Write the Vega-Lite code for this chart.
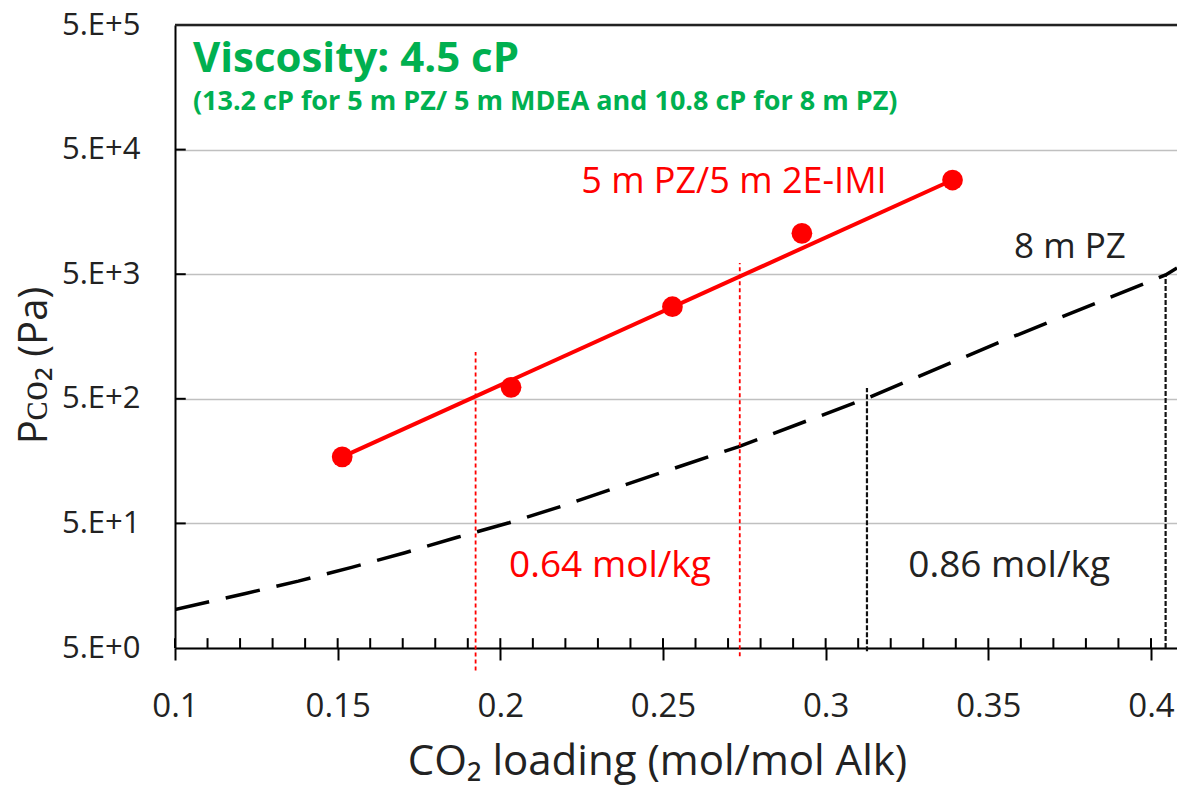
{
  "$schema": "https://vega.github.io/schema/vega-lite/v6.json",
  "width": 1002,
  "height": 623,
  "autosize": {"type": "none"},
  "padding": {"left": 175, "top": 25, "right": 0, "bottom": 138},
  "background": "white",
  "config": {"view": {"stroke": null}, "font": "Open Sans"},
  "datasets": {
    "imi": [
      {"loading": 0.1514, "pco2": 171},
      {"loading": 0.2033, "pco2": 618},
      {"loading": 0.2529, "pco2": 2741},
      {"loading": 0.2927, "pco2": 10640},
      {"loading": 0.339, "pco2": 28500}
    ],
    "imiFit": [
      {"loading": 0.1514, "pco2": 171},
      {"loading": 0.339, "pco2": 28500}
    ],
    "pz": [
      {"loading": 0.1, "pco2": 10.2},
      {"loading": 0.1217, "pco2": 13.7},
      {"loading": 0.1379, "pco2": 17.2},
      {"loading": 0.1543, "pco2": 22.2},
      {"loading": 0.1707, "pco2": 29.1},
      {"loading": 0.1868, "pco2": 38.7},
      {"loading": 0.2027, "pco2": 50.6},
      {"loading": 0.2191, "pco2": 69.0},
      {"loading": 0.2342, "pco2": 93.9},
      {"loading": 0.2731, "pco2": 206},
      {"loading": 0.3127, "pco2": 505},
      {"loading": 0.3551, "pco2": 1482},
      {"loading": 0.4045, "pco2": 4930},
      {"loading": 0.408, "pco2": 5600}
    ],
    "redGuides": [
      {"loading": 0.1924, "low": 3.3, "high": 1190},
      {"loading": 0.2736, "low": 4.3, "high": 6150}
    ],
    "blackGuides": [
      {"loading": 0.3127, "low": 4.7, "high": 611},
      {"loading": 0.4045, "low": 5, "high": 4840}
    ],
    "minorX": [
      {"loading": 0.1}, {"loading": 0.11}, {"loading": 0.12}, {"loading": 0.13}, {"loading": 0.14},
      {"loading": 0.15}, {"loading": 0.16}, {"loading": 0.17}, {"loading": 0.18}, {"loading": 0.19},
      {"loading": 0.2}, {"loading": 0.21}, {"loading": 0.22}, {"loading": 0.23}, {"loading": 0.24},
      {"loading": 0.25}, {"loading": 0.26}, {"loading": 0.27}, {"loading": 0.28}, {"loading": 0.29},
      {"loading": 0.3}, {"loading": 0.31}, {"loading": 0.32}, {"loading": 0.33}, {"loading": 0.34},
      {"loading": 0.35}, {"loading": 0.36}, {"loading": 0.37}, {"loading": 0.38}, {"loading": 0.39},
      {"loading": 0.4}
    ],
    "decades": [
      {"pco2": 50}, {"pco2": 500}, {"pco2": 5000}, {"pco2": 50000}
    ],
    "frame": [{"pco2": 500000}],
    "greenTitle": [{"loading": 0.1055, "pco2": 209900, "text": "Viscosity: 4.5 cP"}],
    "greenSub": [{"loading": 0.1055, "pco2": 103900, "text": "(13.2 cP for 5 m PZ/ 5 m MDEA and 10.8 cP for 8 m PZ)"}],
    "redTitle": [{"loading": 0.2718, "pco2": 22420, "text": "5 m PZ/5 m 2E-IMI"}],
    "blackTitle": [{"loading": 0.3751, "pco2": 6745, "text": "8 m PZ"}],
    "redNote": [{"loading": 0.2337, "pco2": 18.6, "text": "0.64 mol/kg"}],
    "blackNote": [{"loading": 0.3564, "pco2": 18.6, "text": "0.86 mol/kg"}]
  },
  "layer": [
    {
      "data": {"name": "pz"},
      "mark": {"type": "line", "color": "black", "strokeWidth": 3.5, "strokeDash": [35, 17], "clip": true},
      "encoding": {
        "x": {
          "field": "loading", "type": "quantitative",
          "scale": {"domain": [0.1, 0.408], "nice": false, "zero": false},
          "axis": {
            "orient": "bottom",
            "values": [0.1, 0.15, 0.2, 0.25, 0.3, 0.35, 0.4],
            "format": "~g",
            "title": "CO₂ loading (mol/mol Alk)",
            "grid": false,
            "tickSize": 12, "tickColor": "black", "tickWidth": 2,
            "domainColor": "black", "domainWidth": 2,
            "labelFont": "Open Sans", "labelFontSize": 33, "labelColor": "#222222",
            "labelBaseline": "alphabetic", "labelPadding": 56,
            "labelFlush": false, "labelOverlap": false, "labelBound": false,
            "titleFont": "Open Sans", "titleFontSize": 42, "titleFontWeight": "normal", "titleColor": "#222222",
            "titleX": 482, "titleY": 126, "titleBaseline": "alphabetic", "titleAlign": "center"
          }
        },
        "y": {
          "field": "pco2", "type": "quantitative",
          "scale": {"type": "log", "domain": [5, 500000], "nice": false},
          "axis": {
            "orient": "left",
            "values": [5, 50, 500, 5000, 50000, 500000],
            "labelExpr": "'5.E+' + round(log(datum.value / 5) / LN10)",
            "ticks": false,
            "labelPadding": 35,
            "labelFont": "Open Sans", "labelFontSize": 31, "labelColor": "#222222",
            "labelFlush": false, "labelOverlap": false, "labelBound": false,
            "domainColor": "black", "domainWidth": 2,
            "grid": true, "gridColor": "#c0c0c0", "gridWidth": 1.5,
            "title": "Pᴄᴏ₂ (Pa)",
            "titleFont": "Open Sans", "titleFontSize": 40, "titleFontWeight": "normal", "titleColor": "#222222",
            "titleX": -141, "titleY": 340, "titleBaseline": "middle", "titleAlign": "center", "titleAngle": -90
          }
        }
      }
    },
    {
      "data": {"name": "minorX"},
      "mark": {"type": "rule", "color": "black", "strokeWidth": 2},
      "encoding": {
        "x": {"field": "loading", "type": "quantitative"},
        "y": {"datum": 5, "type": "quantitative"},
        "y2": {"datum": 6.0}
      }
    },
    {
      "data": {"name": "decades"},
      "mark": {"type": "rule", "color": "black", "strokeWidth": 2},
      "encoding": {
        "y": {"field": "pco2", "type": "quantitative"},
        "x": {"datum": 0.1, "type": "quantitative"},
        "x2": {"datum": 0.1033}
      }
    },
    {
      "data": {"name": "imiFit"},
      "mark": {"type": "line", "color": "#ff0000", "strokeWidth": 4},
      "encoding": {
        "x": {"field": "loading", "type": "quantitative"},
        "y": {"field": "pco2", "type": "quantitative"}
      }
    },
    {
      "data": {"name": "imi"},
      "mark": {"type": "circle", "color": "#ff0000", "opacity": 1, "size": 430},
      "encoding": {
        "x": {"field": "loading", "type": "quantitative"},
        "y": {"field": "pco2", "type": "quantitative"}
      }
    },
    {
      "data": {"name": "redGuides"},
      "mark": {"type": "rule", "color": "#ff0000", "strokeWidth": 1.8, "strokeDash": [4, 3]},
      "encoding": {
        "x": {"field": "loading", "type": "quantitative"},
        "y": {"field": "low", "type": "quantitative"},
        "y2": {"field": "high"}
      }
    },
    {
      "data": {"name": "blackGuides"},
      "mark": {"type": "rule", "color": "#111111", "strokeWidth": 2.2, "strokeDash": [5, 2]},
      "encoding": {
        "x": {"field": "loading", "type": "quantitative"},
        "y": {"field": "low", "type": "quantitative"},
        "y2": {"field": "high"}
      }
    },
    {
      "data": {"name": "frame"},
      "mark": {"type": "rule", "color": "#222222", "strokeWidth": 2.5},
      "encoding": {
        "y": {"field": "pco2", "type": "quantitative"}
      }
    },
    {
      "data": {"name": "greenTitle"},
      "mark": {"type": "text", "color": "#00b050", "fontSize": 42, "fontWeight": "bold", "align": "left", "baseline": "alphabetic", "font": "Open Sans"},
      "encoding": {
        "x": {"field": "loading", "type": "quantitative"},
        "y": {"field": "pco2", "type": "quantitative"},
        "text": {"field": "text"}
      }
    },
    {
      "data": {"name": "greenSub"},
      "mark": {"type": "text", "color": "#00b050", "fontSize": 27, "fontWeight": "bold", "align": "left", "baseline": "alphabetic", "font": "Open Sans"},
      "encoding": {
        "x": {"field": "loading", "type": "quantitative"},
        "y": {"field": "pco2", "type": "quantitative"},
        "text": {"field": "text"}
      }
    },
    {
      "data": {"name": "redTitle"},
      "mark": {"type": "text", "color": "#ff0000", "fontSize": 36, "align": "center", "baseline": "alphabetic", "font": "Open Sans"},
      "encoding": {
        "x": {"field": "loading", "type": "quantitative"},
        "y": {"field": "pco2", "type": "quantitative"},
        "text": {"field": "text"}
      }
    },
    {
      "data": {"name": "blackTitle"},
      "mark": {"type": "text", "color": "#222222", "fontSize": 35, "align": "center", "baseline": "alphabetic", "font": "Open Sans"},
      "encoding": {
        "x": {"field": "loading", "type": "quantitative"},
        "y": {"field": "pco2", "type": "quantitative"},
        "text": {"field": "text"}
      }
    },
    {
      "data": {"name": "redNote"},
      "mark": {"type": "text", "color": "#ff0000", "fontSize": 37, "align": "center", "baseline": "alphabetic", "font": "Open Sans"},
      "encoding": {
        "x": {"field": "loading", "type": "quantitative"},
        "y": {"field": "pco2", "type": "quantitative"},
        "text": {"field": "text"}
      }
    },
    {
      "data": {"name": "blackNote"},
      "mark": {"type": "text", "color": "#222222", "fontSize": 37, "align": "center", "baseline": "alphabetic", "font": "Open Sans"},
      "encoding": {
        "x": {"field": "loading", "type": "quantitative"},
        "y": {"field": "pco2", "type": "quantitative"},
        "text": {"field": "text"}
      }
    }
  ]
}
